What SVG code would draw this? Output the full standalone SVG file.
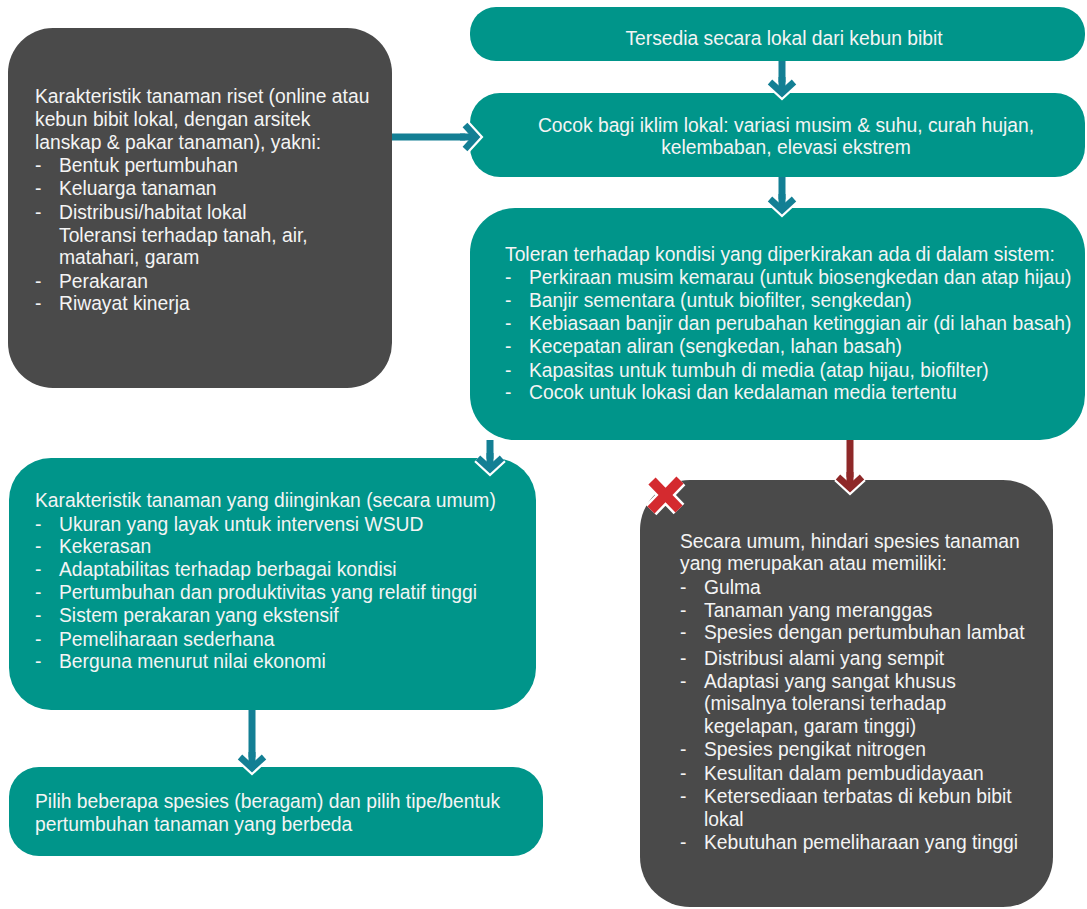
<svg xmlns="http://www.w3.org/2000/svg" width="1087" height="909" viewBox="0 0 1087 909">
<style>
.teal{fill:#00958a}
.dark{fill:#4a4a4a}
text{font-family:"Liberation Sans",Arial,sans-serif;font-size:19.3px;fill:#f4f4f4}
.c{text-anchor:middle}
.shaft{stroke:#137f94;stroke-width:7;fill:none}
.shaftR{stroke:#8e2828;stroke-width:7;fill:none}
</style>
<defs>
<marker id="ah" markerUnits="userSpaceOnUse" markerWidth="40" markerHeight="40" viewBox="-20 -20 40 40" refX="0" refY="0" orient="auto" overflow="visible">
<path d="M-11,-12 L0,0 L-11,12" fill="none" stroke="#ffffff" stroke-width="11" stroke-linejoin="miter"/>
<path d="M-16,0 L-3,0" fill="none" stroke="#137f94" stroke-width="7"/>
<path d="M-11,-12 L0,0 L-11,12" fill="none" stroke="#137f94" stroke-width="6.5" stroke-linejoin="miter"/>
</marker>
<marker id="ahR" markerUnits="userSpaceOnUse" markerWidth="40" markerHeight="40" viewBox="-20 -20 40 40" refX="0" refY="0" orient="auto" overflow="visible">
<path d="M-11,-12 L0,0 L-11,12" fill="none" stroke="#ffffff" stroke-width="11" stroke-linejoin="miter"/>
<path d="M-16,0 L-3,0" fill="none" stroke="#8e2828" stroke-width="7"/>
<path d="M-11,-12 L0,0 L-11,12" fill="none" stroke="#8e2828" stroke-width="6.5" stroke-linejoin="miter"/>
</marker>
</defs>
<rect width="1087" height="909" fill="#ffffff"/>

<g id="n1">
<rect class="dark" x="8" y="28" width="384" height="360" rx="45"/>
<text x="35" y="103">Karakteristik tanaman riset (online atau</text>
<text x="35" y="126">kebun bibit lokal, dengan arsitek</text>
<text x="35" y="149">lanskap &amp; pakar tanaman), yakni:</text>
<text x="35" y="172">-</text><text x="59" y="172">Bentuk pertumbuhan</text>
<text x="35" y="195">-</text><text x="59" y="195">Keluarga tanaman</text>
<text x="35" y="219">-</text><text x="59" y="219">Distribusi/habitat lokal</text>
<text x="59" y="242">Toleransi terhadap tanah, air,</text>
<text x="59" y="264">matahari, garam</text>
<text x="35" y="288">-</text><text x="59" y="288">Perakaran</text>
<text x="35" y="310">-</text><text x="59" y="310">Riwayat kinerja</text>
</g>

<g id="n2">
<rect class="teal" x="470" y="7" width="615" height="54" rx="26"/>
<text class="c" x="784" y="45">Tersedia secara lokal dari kebun bibit</text>
</g>

<g id="n3">
<rect class="teal" x="470" y="93" width="615" height="84" rx="30"/>
<text class="c" x="786" y="132">Cocok bagi iklim lokal: variasi musim &amp; suhu, curah hujan,</text>
<text class="c" x="786" y="154">kelembaban, elevasi ekstrem</text>
</g>

<g id="n4">
<rect class="teal" x="470" y="208" width="615" height="232" rx="45"/>
<text x="505" y="261">Toleran terhadap kondisi yang diperkirakan ada di dalam sistem:</text>
<text x="505" y="284">-</text><text x="529" y="284">Perkiraan musim kemarau (untuk biosengkedan dan atap hijau)</text>
<text x="505" y="307">-</text><text x="529" y="307">Banjir sementara (untuk biofilter, sengkedan)</text>
<text x="505" y="330">-</text><text x="529" y="330">Kebiasaan banjir dan perubahan ketinggian air (di lahan basah)</text>
<text x="505" y="353">-</text><text x="529" y="353">Kecepatan aliran (sengkedan, lahan basah)</text>
<text x="505" y="377">-</text><text x="529" y="377">Kapasitas untuk tumbuh di media (atap hijau, biofilter)</text>
<text x="505" y="399">-</text><text x="529" y="399">Cocok untuk lokasi dan kedalaman media tertentu</text>
</g>

<g id="n5">
<rect class="teal" x="9" y="458" width="527" height="252" rx="42"/>
<text x="35" y="507">Karakteristik tanaman yang diinginkan (secara umum)</text>
<text x="35" y="531">-</text><text x="59" y="531">Ukuran yang layak untuk intervensi WSUD</text>
<text x="35" y="553">-</text><text x="59" y="553">Kekerasan</text>
<text x="35" y="576">-</text><text x="59" y="576">Adaptabilitas terhadap berbagai kondisi</text>
<text x="35" y="599">-</text><text x="59" y="599">Pertumbuhan dan produktivitas yang relatif tinggi</text>
<text x="35" y="622">-</text><text x="59" y="622">Sistem perakaran yang ekstensif</text>
<text x="35" y="646">-</text><text x="59" y="646">Pemeliharaan sederhana</text>
<text x="35" y="668">-</text><text x="59" y="668">Berguna menurut nilai ekonomi</text>
</g>

<g id="n6">
<rect class="dark" x="640" y="480" width="413" height="427" rx="50"/>
<text x="680" y="548">Secara umum, hindari spesies tanaman</text>
<text x="680" y="570">yang merupakan atau memiliki:</text>
<text x="680" y="594">-</text><text x="704" y="594">Gulma</text>
<text x="680" y="617">-</text><text x="704" y="617">Tanaman yang meranggas</text>
<text x="680" y="639">-</text><text x="704" y="639">Spesies dengan pertumbuhan lambat</text>
<text x="680" y="665">-</text><text x="704" y="665">Distribusi alami yang sempit</text>
<text x="680" y="688">-</text><text x="704" y="688">Adaptasi yang sangat khusus</text>
<text x="704" y="710">(misalnya toleransi terhadap</text>
<text x="704" y="733">kegelapan, garam tinggi)</text>
<text x="680" y="756">-</text><text x="704" y="756">Spesies pengikat nitrogen</text>
<text x="680" y="780">-</text><text x="704" y="780">Kesulitan dalam pembudidayaan</text>
<text x="680" y="803">-</text><text x="704" y="803">Ketersediaan terbatas di kebun bibit</text>
<text x="704" y="826">lokal</text>
<text x="680" y="849">-</text><text x="704" y="849">Kebutuhan pemeliharaan yang tinggi</text>
<g id="xmark">
<path d="M652,481 L679,509 M680,480 L651,510" stroke="#ffffff" stroke-width="15" fill="none"/>
<path d="M652,481 L679,509 M680,480 L651,510" stroke="#d42a2f" stroke-width="10" fill="none"/>
</g>
</g>

<g id="n7">
<rect class="teal" x="9" y="767" width="534" height="89" rx="30"/>
<text x="35" y="808">Pilih beberapa spesies (beragam) dan pilih tipe/bentuk</text>
<text x="35" y="831">pertumbuhan tanaman yang berbeda</text>
</g>

<g id="connectors">
<line class="shaft" x1="392" y1="137" x2="476" y2="137" marker-end="url(#ah)"/>
<line class="shaft" x1="782" y1="61" x2="782" y2="93" marker-end="url(#ah)"/>
<line class="shaft" x1="782" y1="177" x2="782" y2="210" marker-end="url(#ah)"/>
<line class="shaft" x1="490" y1="440" x2="490" y2="469" marker-end="url(#ah)"/>
<line class="shaftR" x1="850" y1="440" x2="850" y2="488" marker-end="url(#ahR)"/>
<line class="shaft" x1="252" y1="710" x2="252" y2="768" marker-end="url(#ah)"/>
</g>
</svg>
